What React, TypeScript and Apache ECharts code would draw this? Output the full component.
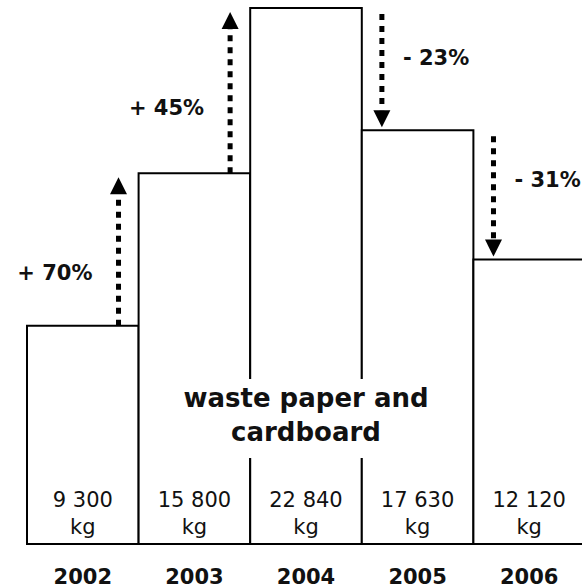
import React, { useEffect, useRef } from "react";
import * as echarts from "echarts";

// Annual waste paper and cardboard collected (kg)
const years = ["2002", "2003", "2004", "2005", "2006"];
const weightsKg = [9300, 15800, 22840, 17630, 12120];
const changeLabels = ["+ 70%", "+ 45%", "- 23%", "- 31%"];
const titleLines = ["waste paper and", "cardboard"];

const FONT = '"DejaVu Sans", Verdana, sans-serif';
const INK = "#111";

// "9300" -> "9 300"
const spaced = (n: number) => String(n).replace(/\B(?=(\d{3})+(?!\d))/g, " ");

// one arrow per year-to-year step: [fromIndex, fromValue, toValue, labelIndex]
const steps = weightsKg.slice(1).map((v, i) => [i, weightsKg[i], v, i]);
const barData = weightsKg.map((v, i) => [i, v]);

export default function App() {
  const ref = useRef<HTMLDivElement>(null);

  useEffect(() => {
    if (!ref.current) return;
    const chart = echarts.init(ref.current, null, { renderer: "svg" });

    // full-band bars whose outlines share edges with their neighbours
    const renderBar = (params: any, api: any) => {
      const i = api.value(0);
      const v = api.value(1);
      const top = api.coord([i, v]);
      const zero = api.coord([i, 0]);
      const band = api.size([1, 0])[0];
      const x = top[0] - band / 2;
      return {
        type: "group",
        children: [
          {
            type: "rect",
            shape: { x, y: top[1], width: band, height: zero[1] - top[1] },
            style: { fill: "#fff", stroke: "#000", lineWidth: 2 },
          },
          {
            type: "text",
            style: {
              text: `${spaced(v)}\nkg`,
              x: top[0],
              y: zero[1] - 4,
              align: "center",
              verticalAlign: "bottom",
              font: `21px ${FONT}`,
              lineHeight: 27,
              fill: INK,
            },
          },
        ],
      };
    };

    const renderArrow = (params: any, api: any) => {
      const i = api.value(0);
      const from = api.value(1);
      const to = api.value(2);
      const label = changeLabels[api.value(3)];
      const pFrom = api.coord([i, from]);
      const pTo = api.coord([i, to]);
      const band = api.size([1, 0])[0];
      const boundary = pFrom[0] + band / 2;
      const up = to > from;
      const x = up ? boundary - 0.18 * band : boundary + 0.18 * band;
      const head = 17;
      let y0: number, tip: number, base: number, ly: number;
      if (up) {
        y0 = pFrom[1];
        tip = pTo[1] + 4;
        base = tip + head;
        ly = tip + 96;
      } else {
        y0 = pFrom[1] + 6;
        tip = pTo[1] - 3;
        base = tip - head;
        ly = y0 + 44;
      }
      return {
        type: "group",
        children: [
          {
            type: "line",
            shape: { x1: x, y1: y0, x2: x, y2: base },
            style: { stroke: "#000", lineWidth: 5, lineDash: [6, 6], fill: null },
          },
          {
            type: "polygon",
            shape: {
              points: [
                [x - head / 2, base],
                [x + head / 2, base],
                [x, tip],
              ],
            },
            style: { fill: "#000" },
          },
          {
            type: "text",
            style: {
              text: label,
              x: up ? x - 26 : x + 21,
              y: ly,
              align: up ? "right" : "left",
              verticalAlign: "middle",
              font: `bold 21px ${FONT}`,
              fill: INK,
            },
          },
        ],
      };
    };

    chart.setOption({
      animation: false,
      backgroundColor: "#fff",
      // the last bar runs past the right edge of the canvas
      grid: {
        left: 27,
        width: 558,
        top: 8,
        bottom: 44,
        containLabel: false,
        outerBoundsMode: "none",
      },
      xAxis: {
        type: "category",
        data: years,
        axisLine: { show: true, lineStyle: { color: "#000", width: 2 } },
        axisTick: { show: false },
        axisLabel: {
          color: INK,
          fontFamily: FONT,
          fontWeight: "bold",
          fontSize: 21,
          margin: 22,
        },
      },
      yAxis: {
        type: "value",
        min: 0,
        max: 22840,
        show: false,
        splitLine: { show: false },
      },
      series: [
        {
          type: "custom",
          data: barData,
          encode: { x: 0, y: 1 },
          renderItem: renderBar,
          clip: false,
          silent: true,
          z: 2,
        },
        {
          type: "custom",
          data: steps,
          encode: { x: 0, y: [1, 2] },
          renderItem: renderArrow,
          clip: false,
          silent: true,
          z: 5,
        },
      ],
      graphic: [
        {
          type: "rect",
          shape: { x: 181, y: 379, width: 251, height: 79 },
          style: { fill: "#fff" },
          z: 10,
        },
        {
          type: "text",
          x: 306,
          y: 415,
          style: {
            text: titleLines.join("\n"),
            align: "center",
            verticalAlign: "middle",
            font: `bold 26px ${FONT}`,
            lineHeight: 34,
            fill: INK,
          },
          z: 11,
        },
      ],
    });

    return () => chart.dispose();
  }, []);

  return (
    <div
      ref={ref}
      style={{ position: "fixed", left: 0, top: 0, width: 582, height: 588, background: "#fff" }}
    />
  );
}
